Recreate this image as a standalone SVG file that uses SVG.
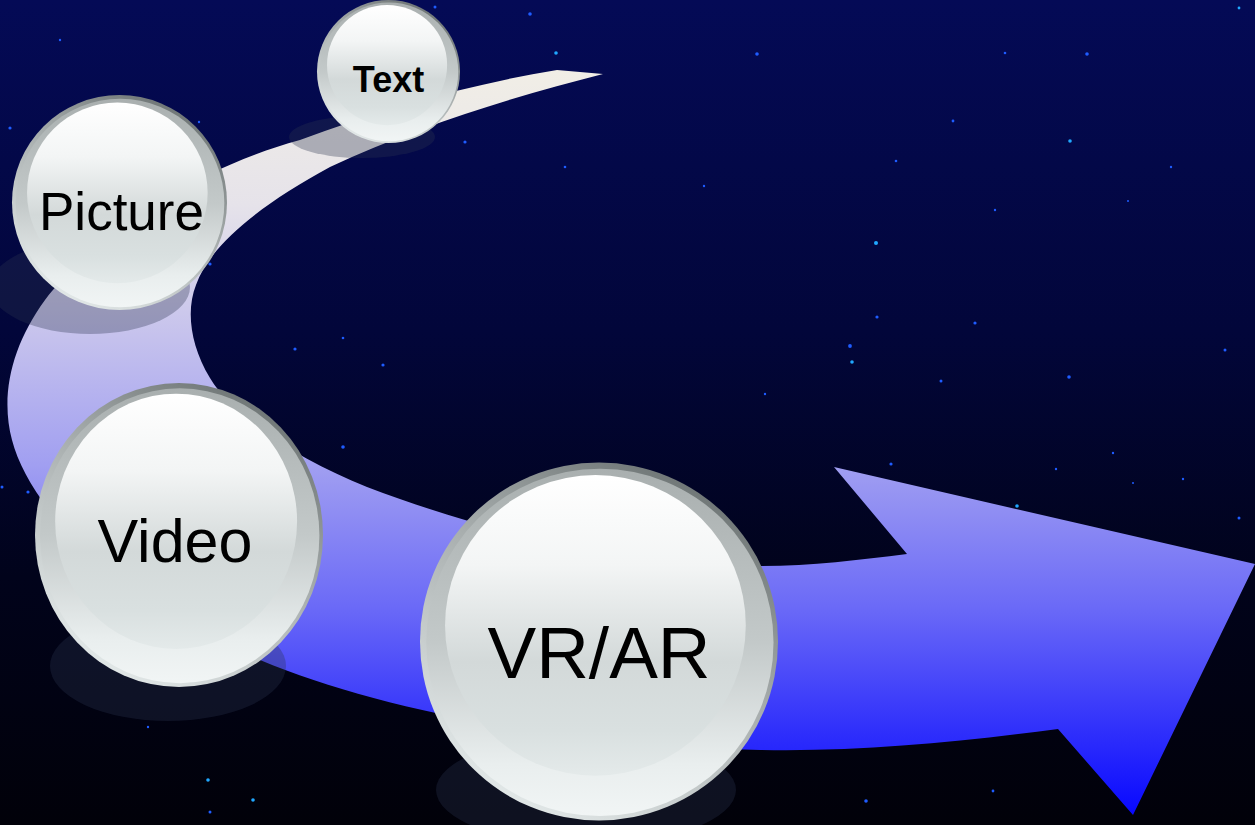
<svg xmlns="http://www.w3.org/2000/svg" width="1255" height="825" viewBox="0 0 1255 825">
  <defs>
    <linearGradient id="bg" x1="0" y1="0" x2="0" y2="1">
      <stop offset="0" stop-color="#040a56"/>
      <stop offset="0.4" stop-color="#02063a"/>
      <stop offset="0.7" stop-color="#01031b"/>
      <stop offset="1" stop-color="#010109"/>
    </linearGradient>
    <linearGradient id="band" gradientUnits="userSpaceOnUse" x1="0" y1="70" x2="0" y2="815">
      <stop offset="0" stop-color="#f1eee6"/>
      <stop offset="0.18" stop-color="#e6e3ea"/>
      <stop offset="0.32" stop-color="#cdc9ec"/>
      <stop offset="0.53" stop-color="#a19ff1"/>
      <stop offset="0.72" stop-color="#6b6af7"/>
      <stop offset="0.88" stop-color="#3232fb"/>
      <stop offset="1" stop-color="#0808ff"/>
    </linearGradient>
    <linearGradient id="rimOuter" x1="0.8" y1="0.05" x2="0.25" y2="0.95">
      <stop offset="0" stop-color="#6c7373"/>
      <stop offset="0.45" stop-color="#a8aeae"/>
      <stop offset="1" stop-color="#e2e8e8"/>
    </linearGradient>
    <linearGradient id="rimInner" x1="0" y1="0" x2="0" y2="1">
      <stop offset="0" stop-color="#a9afaf"/>
      <stop offset="0.5" stop-color="#c3c9c9"/>
      <stop offset="0.85" stop-color="#e9eeee"/>
      <stop offset="1" stop-color="#f1f5f5"/>
    </linearGradient>
    <linearGradient id="face" x1="0" y1="0" x2="0" y2="1">
      <stop offset="0" stop-color="#ffffff"/>
      <stop offset="0.3" stop-color="#f3f5f5"/>
      <stop offset="0.62" stop-color="#d3d9d9"/>
      <stop offset="0.85" stop-color="#d9e0e0"/>
      <stop offset="1" stop-color="#e4eaea"/>
    </linearGradient>
    <g id="bubble">
      <circle r="100" fill="url(#rimOuter)"/>
      <circle r="97" cx="0.5" cy="0.5" fill="url(#rimInner)"/>
      <circle r="84" cx="-2" cy="-9" fill="url(#face)"/>
    </g>
  </defs>
  <style>
    .lbl { font-family: "Liberation Sans", Arial, sans-serif; fill: #000; text-anchor: middle; }
    .shadow { fill: #2c3450; fill-opacity: 0.33; }
    .star { fill: #1f5cff; }
    .star2 { fill: #20a8ff; }
  </style>

  <rect x="0" y="0" width="1255" height="825" fill="url(#bg)"/>

  <g id="stars">
    <circle class="star" cx="435" cy="7" r="1.5"/>
    <circle class="star" cx="530" cy="14" r="1.8"/>
    <circle class="star2" cx="556" cy="53" r="1.8"/>
    <circle class="star" cx="465" cy="142" r="1.6"/>
    <circle class="star" cx="565" cy="167" r="1.3"/>
    <circle class="star" cx="10" cy="128" r="1.6"/>
    <circle class="star" cx="199" cy="122" r="1.2"/>
    <circle class="star" cx="60" cy="40" r="1.2"/>
    <circle class="star" cx="210" cy="264" r="1.6"/>
    <circle class="star" cx="757" cy="54" r="1.8"/>
    <circle class="star" cx="1005" cy="53" r="1.3"/>
    <circle class="star" cx="1087" cy="54" r="1.8"/>
    <circle class="star2" cx="1239" cy="8" r="1.4"/>
    <circle class="star" cx="953" cy="121" r="1.4"/>
    <circle class="star2" cx="1070" cy="141" r="1.8"/>
    <circle class="star" cx="896" cy="161" r="1.3"/>
    <circle class="star" cx="704" cy="186" r="1.2"/>
    <circle class="star" cx="995" cy="210" r="1.2"/>
    <circle class="star" cx="1171" cy="167" r="1.2"/>
    <circle class="star" cx="1128" cy="201" r="1"/>
    <circle class="star2" cx="876" cy="243" r="2"/>
    <circle class="star" cx="877" cy="317" r="1.6"/>
    <circle class="star" cx="975" cy="323" r="1.6"/>
    <circle class="star" cx="850" cy="346" r="1.9"/>
    <circle class="star2" cx="852" cy="362" r="1.8"/>
    <circle class="star" cx="941" cy="381" r="1.5"/>
    <circle class="star" cx="1069" cy="377" r="1.8"/>
    <circle class="star" cx="1225" cy="350" r="1.5"/>
    <circle class="star" cx="765" cy="394" r="1.2"/>
    <circle class="star" cx="295" cy="349" r="1.6"/>
    <circle class="star" cx="343" cy="338" r="1.3"/>
    <circle class="star" cx="383" cy="365" r="1.6"/>
    <circle class="star" cx="343" cy="447" r="1.8"/>
    <circle class="star" cx="2" cy="487" r="1.5"/>
    <circle class="star" cx="28" cy="492" r="1.6"/>
    <circle class="star" cx="891" cy="464" r="1.6"/>
    <circle class="star" cx="1056" cy="469" r="1.2"/>
    <circle class="star" cx="1113" cy="453" r="1.2"/>
    <circle class="star" cx="1183" cy="479" r="1.2"/>
    <circle class="star" cx="1133" cy="483" r="1"/>
    <circle class="star2" cx="1017" cy="506" r="1.8"/>
    <circle class="star" cx="1239" cy="518" r="1.5"/>
    <circle class="star2" cx="208" cy="780" r="1.8"/>
    <circle class="star2" cx="253" cy="800" r="1.8"/>
    <circle class="star" cx="210" cy="812" r="1.5"/>
    <circle class="star" cx="148" cy="727" r="1.2"/>
    <circle class="star" cx="866" cy="801" r="1.8"/>
    <circle class="star" cx="993" cy="791" r="1.4"/>
  </g>

  <g id="connectors">
    <path id="arrow" fill="url(#band)" d="M557,70 C470,84 380,110 300,140 C190,170 90,240 45,300 C12,345 0,395 12,440 C30,510 120,600 260,660 C380,710 560,745 760,750 C860,752 960,742 1058,729 L1133,815 L1255,564 L834,467 L907,554 C860,560 810,566 760,566 C620,565 480,530 367,487 C300,460 235,420 210,378 C190,345 186,310 196,285 C210,245 260,205 330,167 C420,125 520,95 603,74 Z"/>
  </g>

  <g id="node-text">
    <ellipse class="shadow" cx="362" cy="137" rx="73" ry="21"/>
    <use href="#bubble" transform="translate(388.5,71.5) scale(0.715)"/>
    <text class="lbl" x="388.5" y="92" font-size="36" font-weight="bold">Text</text>
  </g>

  <g id="node-picture">
    <ellipse class="shadow" cx="90" cy="287" rx="100" ry="47"/>
    <use href="#bubble" transform="translate(119.5,202.5) scale(1.075)"/>
    <text class="lbl" x="121.5" y="230" font-size="53">Picture</text>
  </g>

  <g id="node-video">
    <ellipse class="shadow" cx="168" cy="666" rx="118" ry="55"/>
    <use href="#bubble" transform="translate(179,535) scale(1.44,1.52)"/>
    <text class="lbl" x="175" y="562" font-size="61">Video</text>
  </g>

  <g id="node-vrar">
    <ellipse class="shadow" cx="586" cy="790" rx="150" ry="55"/>
    <use href="#bubble" transform="translate(599,641.5) scale(1.79)"/>
    <text class="lbl" x="599" y="678" font-size="73">VR/AR</text>
  </g>
</svg>
